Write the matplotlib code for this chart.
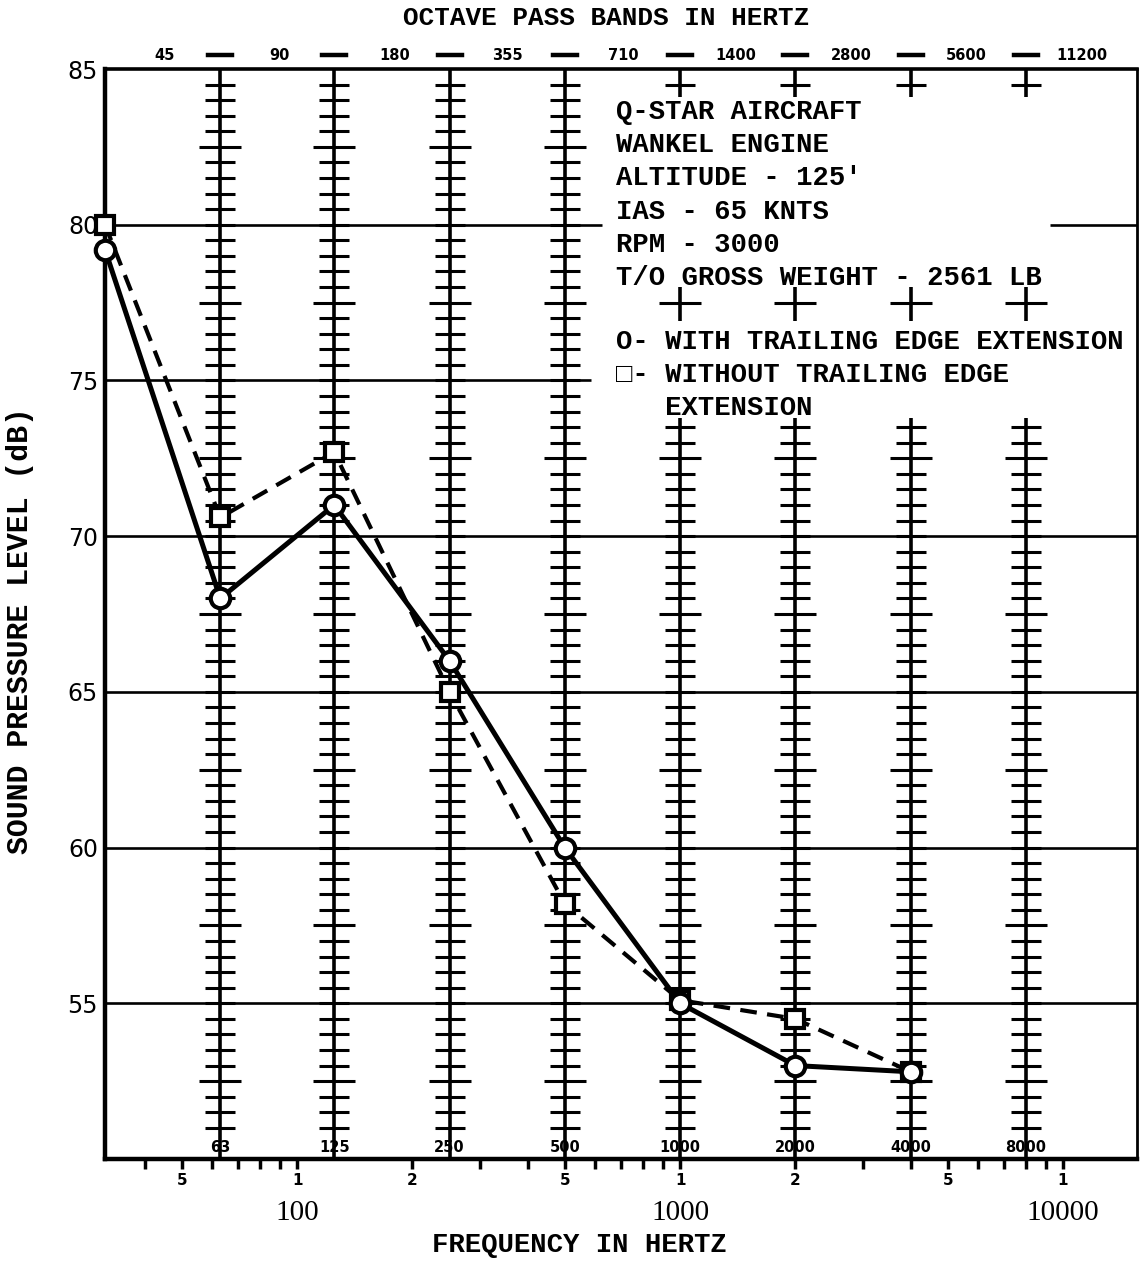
import numpy as np
import matplotlib
matplotlib.use("Agg")
import matplotlib.pyplot as plt
from matplotlib.collections import LineCollection
from matplotlib.lines import Line2D
from matplotlib.transforms import blended_transform_factory
from matplotlib.ticker import NullLocator

# Octave band centre frequencies (Hz) and measured sound pressure levels (dB)
band_centres = [31.5, 63, 125, 250, 500, 1000, 2000, 4000]
spl_with_ext = [79.2, 68.0, 71.0, 66.0, 60.0, 55.0, 53.0, 52.8]
spl_without_ext = [80.0, 70.6, 72.7, 65.0, 58.2, 55.1, 54.5, 52.8]

# Octave grid: centre lines and pass-band edges
grid_centres = [63, 125, 250, 500, 1000, 2000, 4000, 8000]
grid_centre_labels = ["63", "125", "250", "500", "1000", "2000", "4000", "8000"]
band_edges = [45, 90, 180, 355, 710, 1400, 2800, 5600, 11200]
band_edge_labels = ["45", "90", "180", "355", "710", "1400", "2800", "5600", "11200"]

# Axis ticks
y_ticks = [55, 60, 65, 70, 75, 80, 85]
x_tick_values = [40, 50, 60, 70, 80, 90,
                 100, 200, 300, 400, 500, 600, 700, 800, 900,
                 1000, 2000, 3000, 4000, 5000, 6000, 7000, 8000, 9000, 10000]
x_tick_labels = ["", "5", "", "", "", "",
                 "1", "2", "", "", "5", "", "", "", "",
                 "1", "2", "", "", "5", "", "", "", "", "1"]
decade_values = [100, 1000, 10000]
decade_labels = ["100", "1000", "10000"]

info_lines = ["Q-STAR AIRCRAFT", "WANKEL ENGINE", "ALTITUDE - 125'",
              "IAS - 65 KNTS", "RPM - 3000", "T/O GROSS WEIGHT - 2561 LB"]
key_lines = ["O- WITH TRAILING EDGE EXTENSION", "\u25a1- WITHOUT TRAILING EDGE",
             "   EXTENSION"]

XMIN, XMAX = 31.5, 15600
YMIN, YMAX = 50, 85

MONO = ["Liberation Mono", "DejaVu Sans Mono"]
NARROW = ["Liberation Sans Narrow", "DejaVu Sans"]

W, H = 1148, 1263
fig = plt.figure(figsize=(W / 100, H / 100), dpi=100)
ax = fig.add_axes([105 / W, 1 - 1159 / H, 1032 / W, 1090 / H])
ax.set_xscale("log")
ax.set_xlim(XMIN, XMAX)
ax.set_ylim(YMIN, YMAX)

# pixel -> log-factor conversion for short horizontal marks on the log axis
px_per_decade = 1032 / np.log10(XMAX / XMIN)


def factor(px):
    return 10 ** (px / px_per_decade)


k_short = factor(15)
k_long = factor(21)

# horizontal grid lines (partly interrupted by the annotation block)
for y in [55, 60, 65, 70]:
    ax.hlines(y, XMIN, XMAX, color="black", lw=1.9, zorder=2)
ax.hlines(75, XMIN, 587, color="black", lw=1.9, zorder=2)
ax.hlines(80, XMIN, 624, color="black", lw=1.9, zorder=2)
ax.hlines(80, 9250, XMAX, color="black", lw=1.9, zorder=2)

# vertical octave lines with half-dB scale marks
vsegs, tsegs = [], []


def add_ticks(f, levels):
    for lv in levels:
        k = k_long if (lv % 2.5 == 0 and lv % 5 != 0) else k_short
        tsegs.append([(f / k, lv), (f * k, lv)])


for f in grid_centres:
    if f <= 500:
        vsegs.append([(f, YMIN), (f, YMAX)])
        add_ticks(f, np.arange(51.0, 84.75, 0.5))
    else:
        vsegs.append([(f, YMIN), (f, 73.8)])
        add_ticks(f, np.arange(51.0, 73.75, 0.5))
        vsegs.append([(f, 84.1), (f, YMAX)])
        add_ticks(f, [84.5])
        vsegs.append([(f, 76.9), (f, 78.0)])
        add_ticks(f, [77.5])

ax.add_collection(LineCollection(vsegs, colors="black", linewidths=2.6, zorder=2))
ax.add_collection(LineCollection(tsegs, colors="black", linewidths=2.2, zorder=2))

# measured spectra
ax.plot(band_centres, spl_without_ext, color="black", lw=3.0, ls="--",
        dashes=(4, 2.5), marker="s", ms=13, mfc="white", mec="black", mew=3,
        zorder=5, clip_on=False)
ax.plot(band_centres, spl_with_ext, color="black", lw=3.6, ls="-",
        marker="o", ms=14, mfc="white", mec="black", mew=3,
        zorder=6, clip_on=False)

# spines
for side, lw in [("left", 3.2), ("bottom", 3.2), ("top", 2.6), ("right", 2.0)]:
    ax.spines[side].set_linewidth(lw)

# y axis
ax.set_yticks(y_ticks)
ax.set_yticklabels([str(v) for v in y_ticks], fontsize=17)
ax.tick_params(axis="y", length=0, pad=5)

# x axis
ax.xaxis.set_minor_locator(NullLocator())
ax.set_xticks(x_tick_values)
ax.set_xticklabels(x_tick_labels, fontsize=11, fontweight="bold", family=NARROW)
ax.tick_params(axis="x", direction="out", length=7, width=2.5, pad=3)

tr = blended_transform_factory(ax.transData, ax.transAxes)
for v, lab in zip(decade_values, decade_labels):
    ax.text(v, -0.0495, lab, transform=tr, ha="center", va="center",
            fontsize=21, family="Liberation Serif")

# octave centre labels along the bottom
for f, lab in zip(grid_centres, grid_centre_labels):
    ax.text(f, 0.011, lab, transform=tr, ha="center", va="center",
            fontsize=10.5, fontweight="bold", family=NARROW, zorder=7)

# octave pass band edges along the top
for f, lab in zip(band_edges, band_edge_labels):
    ax.text(f, 1.0128, lab, transform=tr, ha="center", va="center",
            fontsize=10.5, fontweight="bold", family=NARROW, clip_on=False)
k_dash = factor(12)
for f in grid_centres:
    ax.add_line(Line2D([f / k_dash, f * k_dash], [1.0128, 1.0128], transform=tr,
                       color="black", lw=3.2, clip_on=False))

ax.text(0.486, 1.047, "OCTAVE PASS BANDS IN HERTZ", transform=ax.transAxes,
        ha="center", va="center", fontsize=18.7, fontweight="bold", family=MONO)
ax.text(0.46, -0.079, "FREQUENCY IN HERTZ", transform=ax.transAxes,
        ha="center", va="center", fontsize=19.7, fontweight="bold", family=MONO)
ax.text(-0.082, 0.485, "SOUND PRESSURE LEVEL (dB)", transform=ax.transAxes,
        ha="center", va="center", rotation=90, fontsize=21.5, fontweight="bold",
        family=MONO)

# annotation block
info_y = [0.9606, 0.9303, 0.9000, 0.8688, 0.8385, 0.8083]
for y, line in zip(info_y, info_lines):
    ax.text(0.495, y, line, transform=ax.transAxes, ha="left", va="center",
            fontsize=19.6, fontweight="bold", family=MONO, zorder=7)
key_y = [0.7495, 0.7193, 0.6890]
for y, line in zip(key_y, key_lines):
    ax.text(0.495, y, line, transform=ax.transAxes, ha="left", va="center",
            fontsize=19.6, fontweight="bold", family=MONO, zorder=7)

fig.savefig("out.png", dpi=100)
